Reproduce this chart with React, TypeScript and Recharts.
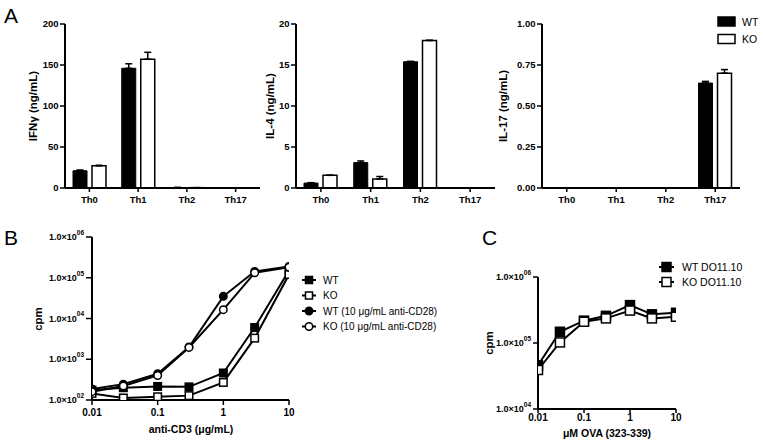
import React from 'react';
import { BarChart, Bar, XAxis, YAxis, ErrorBar, LineChart, Line, Legend } from 'recharts';

const FONT = '"Liberation Sans", Arial, Helvetica, sans-serif';

// ---------- Panel A data ----------
const cytoCategories = ['Th0', 'Th1', 'Th2', 'Th17'];
const aSeriesNames = ['WT', 'KO'];
const ifngWT = [21, 146, 0.6, 0];
const ifngWTErr = [1, 5.5, 0, 0];
const ifngKO = [27, 157, 0.4, 0];
const ifngKOErr = [0.8, 8.5, 0, 0];
const ifngTicks = [0, 50, 100, 150, 200];
const il4WT = [0.6, 3.1, 15.4, 0];
const il4WTErr = [0.05, 0.2, 0.05, 0];
const il4KO = [1.55, 1.1, 18.0, 0];
const il4KOErr = [0, 0.3, 0, 0];
const il4Ticks = [0, 5, 10, 15, 20];
const il17WT = [0, 0, 0, 0.64];
const il17WTErr = [0, 0, 0, 0.01];
const il17KO = [0, 0, 0, 0.7];
const il17KOErr = [0, 0, 0, 0.022];
const il17Ticks = [0, 0.25, 0.5, 0.75, 1];

// ---------- Panel B data ----------
const cd3Doses = [0.01, 0.03, 0.1, 0.3, 1, 3, 10];
const bSeriesNames = ['WT', 'KO', 'WT (10 \u03bcg/mL anti-CD28)', 'KO (10 \u03bcg/mL anti-CD28)'];
const bWT = [175, 200, 215, 210, 460, 6000, 150000];
const bKO = [145, 112, 120, 128, 270, 3300, 120000];
const bWT28 = [185, 245, 440, 2000, 35000, 142000, 190000];
const bKO28 = [160, 220, 400, 1950, 16500, 132000, 180000];
const doseTicks = [0.01, 0.1, 1, 10];
const bYTicks = [1e2, 1e3, 1e4, 1e5, 1e6];

// ---------- Panel C data ----------
const ovaDoses = [0.01, 0.03, 0.1, 0.3, 1, 3, 10];
const cSeriesNames = ['WT DO11.10', 'KO DO11.10'];
const cWT = [46000, 148000, 218000, 258000, 375000, 272000, 287000];
const cKO = [39000, 102000, 210000, 236000, 310000, 236000, 250000];
const cYTicks = [1e4, 1e5, 1e6];

// ---------- helpers ----------
const vTitle = (text: string, x: number, y: number, size: number) => () => (
  <text
    x={x}
    y={y}
    transform={`rotate(-90, ${x}, ${y})`}
    textAnchor="middle"
    dominantBaseline="central"
    fontFamily={FONT}
    fontSize={size}
    fontWeight="bold"
    fill="#000"
  >
    {text}
  </text>
);

const hTitle = (text: string, x: number, y: number, size: number) => () => (
  <text
    x={x}
    y={y}
    textAnchor="middle"
    dominantBaseline="central"
    fontFamily={FONT}
    fontSize={size}
    fontWeight="bold"
    fill="#000"
  >
    {text}
  </text>
);

const ExpTick = (props: any) => {
  const { x, y, payload } = props;
  const e = Math.round(Math.log10(payload.value));
  return (
    <text x={x} y={y} textAnchor="end" fontFamily={FONT} fontSize={9} fontWeight="bold" fill="#000">
      <tspan dy="0.35em">1.0×10</tspan>
      <tspan fontSize={6.5} dy="-0.8em">{String(e).padStart(2, '0')}</tspan>
    </text>
  );
};

const makeDot = (shape: string, filled: boolean, size: number) => (props: any) => {
  const { cx, cy, index } = props;
  if (cx == null || cy == null) return <g key={`d${index}`} />;
  const h = size / 2;
  const fill = filled ? '#000' : '#fff';
  return shape === 'sq' ? (
    <rect key={`d${index}`} x={cx - h} y={cy - h} width={size} height={size} fill={fill} stroke="#000" strokeWidth={1.5} />
  ) : (
    <circle key={`d${index}`} cx={cx} cy={cy} r={h} fill={fill} stroke="#000" strokeWidth={1.5} />
  );
};

const axisLineStyle = { stroke: '#000', strokeWidth: 2 };
const tickLineStyle = { stroke: '#000', strokeWidth: 1.5 };
const boldTick = (size: number) => ({ fill: '#000', fontSize: size, fontWeight: 'bold', fontFamily: FONT });

// ---------- Panel A ----------
const ALegend = () => (
  <svg width={50} height={46}>
    {aSeriesNames.map((n, i) => {
      const y = 1 + i * 17.5;
      return (
        <g key={n}>
          <rect x={1} y={y} width={17} height={9} fill={i === 0 ? '#000' : '#fff'} stroke="#000" strokeWidth={1.5} />
          <text x={25} y={y + 4.5} dominantBaseline="central" fontFamily={FONT} fontSize={10.5} fill="#000">
            {n}
          </text>
        </g>
      );
    })}
  </svg>
);

function CytoPanel(props: any) {
  const { left, width, yWidth, right, title, titleX, wt, wtErr, ko, koErr, ticks, fmt, legend } = props;
  const data = cytoCategories.map((cat, i) => ({
    cat,
    wt: wt[i],
    ko: ko[i],
    wtErr: [0, wtErr[i]],
    koErr: [0, koErr[i]],
  }));
  return (
    <div style={{ position: 'absolute', left, top: 0, width, height: 222 }}>
      <BarChart width={width} height={222} data={data} margin={{ top: 24, right, bottom: 0, left: 0 }} barGap={5}>
        <XAxis
          dataKey="cat"
          height={34}
          interval={0}
          axisLine={axisLineStyle}
          tickLine={tickLineStyle}
          tickSize={4}
          tickMargin={4.5}
          tick={boldTick(9.5)}
        />
        <YAxis
          width={yWidth}
          type="number"
          domain={[0, ticks[ticks.length - 1]]}
          ticks={ticks}
          interval={0}
          tickFormatter={fmt}
          axisLine={axisLineStyle}
          tickLine={tickLineStyle}
          tickSize={5}
          tickMargin={1.5}
          tick={boldTick(9.5)}
          label={vTitle(title, titleX, 106, 11.5)}
        />
        <Bar dataKey="wt" name="WT" fill="#000" stroke="#000" strokeWidth={1} barSize={14} isAnimationActive={false}>
          <ErrorBar dataKey="wtErr" width={3.5} stroke="#000" strokeWidth={1.5} direction="y" isAnimationActive={false} />
        </Bar>
        <Bar dataKey="ko" name="KO" fill="#fff" stroke="#000" strokeWidth={1.5} barSize={14} isAnimationActive={false}>
          <ErrorBar dataKey="koErr" width={3.5} stroke="#000" strokeWidth={1.5} direction="y" isAnimationActive={false} />
        </Bar>
        {legend && (
          <Legend
            layout="horizontal"
            verticalAlign="middle"
            align="center"
            content={ALegend}
            wrapperStyle={{ left: 227, top: 16, width: 50, height: 46 }}
          />
        )}
      </BarChart>
    </div>
  );
}

// ---------- Panel B ----------
const bStyles = [
  { key: 'wt', shape: 'sq', filled: true },
  { key: 'ko', shape: 'sq', filled: false },
  { key: 'wt28', shape: 'ci', filled: true },
  { key: 'ko28', shape: 'ci', filled: false },
];

const BLegend = () => (
  <svg width={180} height={66}>
    {bSeriesNames.map((n, i) => {
      const y = 8 + i * 15.5;
      const st = bStyles[i];
      return (
        <g key={n}>
          <line x1={0} x2={14} y1={y} y2={y} stroke="#000" strokeWidth={2} />
          {st.shape === 'sq' ? (
            <rect x={3.5} y={y - 3.5} width={7} height={7} fill={st.filled ? '#000' : '#fff'} stroke="#000" strokeWidth={1.5} />
          ) : (
            <circle cx={7} cy={y} r={3.7} fill={st.filled ? '#000' : '#fff'} stroke="#000" strokeWidth={1.5} />
          )}
          <text x={21} y={y} dominantBaseline="central" fontFamily={FONT} fontSize={10} fill="#000">
            {n}
          </text>
        </g>
      );
    })}
  </svg>
);

function PanelB() {
  const data = cd3Doses.map((x, i) => ({ x, wt: bWT[i], ko: bKO[i], wt28: bWT28[i], ko28: bKO28[i] }));
  return (
    <div style={{ position: 'absolute', left: 0, top: 225, width: 480, height: 220 }}>
      <LineChart width={480} height={220} data={data} margin={{ top: 12, right: 191, bottom: 0, left: 0 }}>
        <XAxis
          dataKey="x"
          type="number"
          scale="log"
          domain={[0.01, 10]}
          ticks={doseTicks}
          allowDataOverflow
          interval={0}
          height={45}
          axisLine={axisLineStyle}
          tickLine={tickLineStyle}
          tickSize={5}
          tickMargin={4}
          tick={boldTick(10)}
          tickFormatter={(v: number) => String(v)}
          label={hTitle('anti-CD3 (\u03bcg/mL)', 191, 204, 10.5)}
        />
        <YAxis
          type="number"
          scale="log"
          domain={[100, 1e6]}
          ticks={bYTicks}
          allowDataOverflow
          interval={0}
          width={92}
          axisLine={axisLineStyle}
          tickLine={tickLineStyle}
          tickSize={6}
          tickMargin={2}
          tick={ExpTick}
          label={vTitle('cpm', 38, 94, 11.5)}
        />
        {bStyles.map((s, i) => (
          <Line
            key={s.key}
            dataKey={s.key}
            name={bSeriesNames[i]}
            type="linear"
            stroke="#000"
            strokeWidth={2}
            dot={makeDot(s.shape, s.filled, 7.5)}
            activeDot={false}
            isAnimationActive={false}
          />
        ))}
        <Legend
          layout="horizontal"
          verticalAlign="middle"
          align="center"
          content={BLegend}
          wrapperStyle={{ left: 302, top: 47, width: 180, height: 66 }}
        />
      </LineChart>
    </div>
  );
}

// ---------- Panel C ----------
const CLegend = () => (
  <svg width={100} height={34}>
    {cSeriesNames.map((n, i) => {
      const y = 8 + i * 15;
      return (
        <g key={n}>
          <line x1={0} x2={15} y1={y} y2={y} stroke="#000" strokeWidth={2} />
          <rect x={3} y={y - 4.5} width={9} height={9} fill={i === 0 ? '#000' : '#fff'} stroke="#000" strokeWidth={1.5} />
          <text x={23} y={y} dominantBaseline="central" fontFamily={FONT} fontSize={10.5} fill="#000">
            {n}
          </text>
        </g>
      );
    })}
  </svg>
);

function PanelC() {
  const data = ovaDoses.map((x, i) => ({ x, wt: cWT[i], ko: cKO[i] }));
  return (
    <div style={{ position: 'absolute', left: 470, top: 225, width: 293, height: 220 }}>
      <LineChart width={293} height={220} data={data} margin={{ top: 52, right: 87, bottom: 0, left: 0 }}>
        <XAxis
          dataKey="x"
          type="number"
          scale="log"
          domain={[0.01, 10]}
          ticks={doseTicks}
          allowDataOverflow
          interval={0}
          height={36}
          axisLine={axisLineStyle}
          tickLine={tickLineStyle}
          tickSize={4}
          tickMargin={1}
          tick={boldTick(10)}
          tickFormatter={(v: number) => String(v)}
          label={hTitle('\u03bcM OVA (323-339)', 137, 208, 10.5)}
        />
        <YAxis
          type="number"
          scale="log"
          domain={[1e4, 1e6]}
          ticks={cYTicks}
          allowDataOverflow
          interval={0}
          width={68}
          axisLine={axisLineStyle}
          tickLine={tickLineStyle}
          tickSize={5}
          tickMargin={2}
          tick={ExpTick}
          label={vTitle('cpm', 19, 118, 11.5)}
        />
        <Line
          dataKey="wt"
          name={cSeriesNames[0]}
          type="linear"
          stroke="#000"
          strokeWidth={2}
          dot={makeDot('sq', true, 9)}
          activeDot={false}
          isAnimationActive={false}
        />
        <Line
          dataKey="ko"
          name={cSeriesNames[1]}
          type="linear"
          stroke="#000"
          strokeWidth={2}
          dot={makeDot('sq', false, 9)}
          activeDot={false}
          isAnimationActive={false}
        />
        <Legend
          layout="horizontal"
          verticalAlign="middle"
          align="center"
          content={CLegend}
          wrapperStyle={{ left: 189, top: 34, width: 100, height: 34 }}
        />
      </LineChart>
    </div>
  );
}

const letterStyle: React.CSSProperties = {
  position: 'absolute',
  fontFamily: FONT,
  fontSize: 21,
  lineHeight: 'normal',
  color: '#000',
};

export default function App() {
  return (
    <div style={{ position: 'absolute', left: 0, top: 0, width: 763, height: 445, background: '#fff', overflow: 'hidden' }}>
      <CytoPanel
        left={0}
        width={262}
        yWidth={65}
        right={2}
        title={'IFN\u03b3 (ng/mL)'}
        titleX={33}
        wt={ifngWT}
        wtErr={ifngWTErr}
        ko={ifngKO}
        koErr={ifngKOErr}
        ticks={ifngTicks}
        fmt={(v: number) => String(v)}
      />
      <CytoPanel
        left={255}
        width={242}
        yWidth={41}
        right={2}
        title="IL-4 (ng/mL)"
        titleX={15}
        wt={il4WT}
        wtErr={il4WTErr}
        ko={il4KO}
        koErr={il4KOErr}
        ticks={il4Ticks}
        fmt={(v: number) => String(v)}
      />
      <CytoPanel
        left={490}
        width={273}
        yWidth={52}
        right={23}
        title="IL-17 (ng/mL)"
        titleX={13}
        wt={il17WT}
        wtErr={il17WTErr}
        ko={il17KO}
        koErr={il17KOErr}
        ticks={il17Ticks}
        fmt={(v: number) => v.toFixed(2)}
        legend
      />
      <PanelB />
      <PanelC />
      <div style={{ ...letterStyle, left: 4, top: 4 }}>A</div>
      <div style={{ ...letterStyle, left: 4, top: 226 }}>B</div>
      <div style={{ ...letterStyle, left: 482, top: 226 }}>C</div>
    </div>
  );
}
